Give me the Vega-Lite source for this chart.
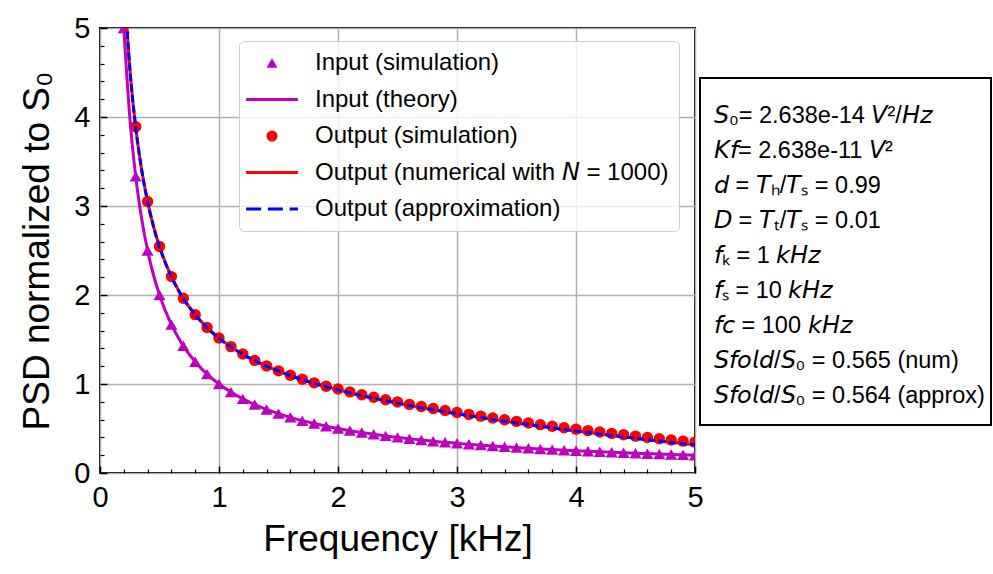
{
  "$schema": "https://vega.github.io/schema/vega-lite/v6.json",
  "background": "white",
  "padding": {"left": 17, "top": 13, "right": 5, "bottom": 5},
  "bounds": "flush",
  "spacing": 5,
  "config": {
    "font": "Liberation Sans",
    "axis": {"labelFont": "Liberation Sans", "titleFont": "Liberation Sans"},
    "legend": {"labelFont": "Liberation Sans"}
  },
  "datasets": {
    "tri": [{"f":0.2,"v":5},{"f":0.3,"v":3.333},{"f":0.4,"v":2.5},{"f":0.5,"v":2},{"f":0.6,"v":1.667},{"f":0.7,"v":1.429},{"f":0.8,"v":1.25},{"f":0.9,"v":1.111},{"f":1,"v":1},{"f":1.1,"v":0.909},{"f":1.2,"v":0.833},{"f":1.3,"v":0.769},{"f":1.4,"v":0.714},{"f":1.5,"v":0.667},{"f":1.6,"v":0.625},{"f":1.7,"v":0.588},{"f":1.8,"v":0.556},{"f":1.9,"v":0.526},{"f":2,"v":0.5},{"f":2.1,"v":0.476},{"f":2.2,"v":0.455},{"f":2.3,"v":0.435},{"f":2.4,"v":0.417},{"f":2.5,"v":0.4},{"f":2.6,"v":0.385},{"f":2.7,"v":0.37},{"f":2.8,"v":0.357},{"f":2.9,"v":0.345},{"f":3,"v":0.333},{"f":3.1,"v":0.323},{"f":3.2,"v":0.313},{"f":3.3,"v":0.303},{"f":3.4,"v":0.294},{"f":3.5,"v":0.286},{"f":3.6,"v":0.278},{"f":3.7,"v":0.27},{"f":3.8,"v":0.263},{"f":3.9,"v":0.256},{"f":4,"v":0.25},{"f":4.1,"v":0.244},{"f":4.2,"v":0.238},{"f":4.3,"v":0.233},{"f":4.4,"v":0.227},{"f":4.5,"v":0.222},{"f":4.6,"v":0.217},{"f":4.7,"v":0.213},{"f":4.8,"v":0.208},{"f":4.9,"v":0.204},{"f":5,"v":0.2}],
    "theory": [{"f":0.2,"v":5},{"f":0.25,"v":4},{"f":0.3,"v":3.333},{"f":0.35,"v":2.857},{"f":0.4,"v":2.5},{"f":0.45,"v":2.222},{"f":0.5,"v":2},{"f":0.6,"v":1.667},{"f":0.7,"v":1.429},{"f":0.8,"v":1.25},{"f":0.9,"v":1.111},{"f":1,"v":1},{"f":1.1,"v":0.909},{"f":1.2,"v":0.833},{"f":1.3,"v":0.769},{"f":1.4,"v":0.714},{"f":1.5,"v":0.667},{"f":1.6,"v":0.625},{"f":1.7,"v":0.588},{"f":1.8,"v":0.556},{"f":1.9,"v":0.526},{"f":2,"v":0.5},{"f":2.1,"v":0.476},{"f":2.2,"v":0.455},{"f":2.3,"v":0.435},{"f":2.4,"v":0.417},{"f":2.5,"v":0.4},{"f":2.6,"v":0.385},{"f":2.7,"v":0.37},{"f":2.8,"v":0.357},{"f":2.9,"v":0.345},{"f":3,"v":0.333},{"f":3.1,"v":0.323},{"f":3.2,"v":0.313},{"f":3.3,"v":0.303},{"f":3.4,"v":0.294},{"f":3.5,"v":0.286},{"f":3.6,"v":0.278},{"f":3.7,"v":0.27},{"f":3.8,"v":0.263},{"f":3.9,"v":0.256},{"f":4,"v":0.25},{"f":4.1,"v":0.244},{"f":4.2,"v":0.238},{"f":4.3,"v":0.233},{"f":4.4,"v":0.227},{"f":4.5,"v":0.222},{"f":4.6,"v":0.217},{"f":4.7,"v":0.213},{"f":4.8,"v":0.208},{"f":4.9,"v":0.204},{"f":5,"v":0.2}],
    "circ": [{"f":0.3,"v":3.89},{"f":0.4,"v":3.05},{"f":0.5,"v":2.545},{"f":0.6,"v":2.207},{"f":0.7,"v":1.963},{"f":0.8,"v":1.779},{"f":0.9,"v":1.634},{"f":1,"v":1.516},{"f":1.1,"v":1.42},{"f":1.2,"v":1.337},{"f":1.3,"v":1.265},{"f":1.4,"v":1.204},{"f":1.5,"v":1.148},{"f":1.6,"v":1.099},{"f":1.7,"v":1.054},{"f":1.8,"v":1.013},{"f":1.9,"v":0.975},{"f":2,"v":0.944},{"f":2.1,"v":0.911},{"f":2.2,"v":0.879},{"f":2.3,"v":0.851},{"f":2.4,"v":0.823},{"f":2.5,"v":0.797},{"f":2.6,"v":0.771},{"f":2.7,"v":0.747},{"f":2.8,"v":0.724},{"f":2.9,"v":0.702},{"f":3,"v":0.68},{"f":3.1,"v":0.659},{"f":3.2,"v":0.639},{"f":3.3,"v":0.618},{"f":3.4,"v":0.599},{"f":3.5,"v":0.58},{"f":3.6,"v":0.561},{"f":3.7,"v":0.543},{"f":3.8,"v":0.526},{"f":3.9,"v":0.509},{"f":4,"v":0.493},{"f":4.1,"v":0.476},{"f":4.2,"v":0.46},{"f":4.3,"v":0.444},{"f":4.4,"v":0.429},{"f":4.5,"v":0.414},{"f":4.6,"v":0.399},{"f":4.7,"v":0.385},{"f":4.8,"v":0.371},{"f":4.9,"v":0.358},{"f":5,"v":0.347}],
    "num": [{"f":0.2,"v":5.558},{"f":0.25,"v":4.556},{"f":0.3,"v":3.887},{"f":0.35,"v":3.408},{"f":0.4,"v":3.049},{"f":0.45,"v":2.769},{"f":0.5,"v":2.544},{"f":0.6,"v":2.206},{"f":0.7,"v":1.962},{"f":0.8,"v":1.778},{"f":0.9,"v":1.633},{"f":1,"v":1.515},{"f":1.1,"v":1.418},{"f":1.2,"v":1.335},{"f":1.3,"v":1.263},{"f":1.4,"v":1.201},{"f":1.5,"v":1.145},{"f":1.6,"v":1.095},{"f":1.7,"v":1.05},{"f":1.8,"v":1.008},{"f":1.9,"v":0.97},{"f":2,"v":0.935},{"f":2.1,"v":0.902},{"f":2.2,"v":0.87},{"f":2.3,"v":0.841},{"f":2.4,"v":0.813},{"f":2.5,"v":0.786},{"f":2.6,"v":0.76},{"f":2.7,"v":0.735},{"f":2.8,"v":0.712},{"f":2.9,"v":0.689},{"f":3,"v":0.666},{"f":3.1,"v":0.645},{"f":3.2,"v":0.624},{"f":3.3,"v":0.603},{"f":3.4,"v":0.583},{"f":3.5,"v":0.564},{"f":3.6,"v":0.544},{"f":3.7,"v":0.526},{"f":3.8,"v":0.508},{"f":3.9,"v":0.49},{"f":4,"v":0.473},{"f":4.1,"v":0.456},{"f":4.2,"v":0.439},{"f":4.3,"v":0.423},{"f":4.4,"v":0.407},{"f":4.5,"v":0.391},{"f":4.6,"v":0.375},{"f":4.7,"v":0.36},{"f":4.8,"v":0.345},{"f":4.9,"v":0.331},{"f":5,"v":0.317}],
    "approx": [{"f":0.2,"v":5.557},{"f":0.25,"v":4.555},{"f":0.3,"v":3.886},{"f":0.35,"v":3.407},{"f":0.4,"v":3.048},{"f":0.45,"v":2.768},{"f":0.5,"v":2.543},{"f":0.6,"v":2.205},{"f":0.7,"v":1.961},{"f":0.8,"v":1.777},{"f":0.9,"v":1.632},{"f":1,"v":1.514},{"f":1.1,"v":1.417},{"f":1.2,"v":1.334},{"f":1.3,"v":1.262},{"f":1.4,"v":1.2},{"f":1.5,"v":1.144},{"f":1.6,"v":1.094},{"f":1.7,"v":1.049},{"f":1.8,"v":1.007},{"f":1.9,"v":0.969},{"f":2,"v":0.934},{"f":2.1,"v":0.901},{"f":2.2,"v":0.869},{"f":2.3,"v":0.84},{"f":2.4,"v":0.812},{"f":2.5,"v":0.785},{"f":2.6,"v":0.759},{"f":2.7,"v":0.734},{"f":2.8,"v":0.711},{"f":2.9,"v":0.688},{"f":3,"v":0.665},{"f":3.1,"v":0.644},{"f":3.2,"v":0.623},{"f":3.3,"v":0.602},{"f":3.4,"v":0.582},{"f":3.5,"v":0.563},{"f":3.6,"v":0.543},{"f":3.7,"v":0.525},{"f":3.8,"v":0.507},{"f":3.9,"v":0.489},{"f":4,"v":0.472},{"f":4.1,"v":0.455},{"f":4.2,"v":0.438},{"f":4.3,"v":0.422},{"f":4.4,"v":0.406},{"f":4.5,"v":0.39},{"f":4.6,"v":0.374},{"f":4.7,"v":0.359},{"f":4.8,"v":0.344},{"f":4.9,"v":0.33},{"f":5,"v":0.316}],
    "box": [
      {"line": 1, "t": "\uD835\uDE1A\u2080= 2.638e-14 \uD835\uDE1D\u00B2/\uD835\uDE0F\uD835\uDE3B"},
      {"line": 2, "t": "\uD835\uDE12\uD835\uDE27= 2.638e-11 \uD835\uDE1D\u00B2"},
      {"line": 3, "t": "\uD835\uDE25 = \uD835\uDE1B\u2095/\uD835\uDE1B\u209B = 0.99"},
      {"line": 4, "t": "\uD835\uDE0B = \uD835\uDE1B\u209C/\uD835\uDE1B\u209B = 0.01"},
      {"line": 5, "t": "\uD835\uDE27\u2096 = 1 \uD835\uDE2C\uD835\uDE0F\uD835\uDE3B"},
      {"line": 6, "t": "\uD835\uDE27\u209B = 10 \uD835\uDE2C\uD835\uDE0F\uD835\uDE3B"},
      {"line": 7, "t": "\uD835\uDE27\uD835\uDE24 = 100 \uD835\uDE2C\uD835\uDE0F\uD835\uDE3B"},
      {"line": 8, "t": "\uD835\uDE1A\uD835\uDE27\uD835\uDE30\uD835\uDE2D\uD835\uDE25/\uD835\uDE1A\u2080 = 0.565 (num)"},
      {"line": 9, "t": "\uD835\uDE1A\uD835\uDE27\uD835\uDE30\uD835\uDE2D\uD835\uDE25/\uD835\uDE1A\u2080 = 0.564 (approx)"}
    ]
  },
  "resolve": {"scale": {"color": "independent", "shape": "independent"}, "legend": {"color": "independent", "shape": "independent"}},
  "hconcat": [
    {
      "width": 595,
      "height": 445,
      "view": {"stroke": "black", "strokeWidth": 2},
      "resolve": {"axis": {"x": "independent", "y": "independent"}},
      "layer": [
        {
          "data": {"name": "tri"},
          "mark": {"type": "point", "filled": true, "size": 145, "opacity": 1, "clip": true},
          "encoding": {
            "x": {"field": "f", "type": "quantitative", "scale": {"domain": [0, 5], "nice": false, "zero": false},
              "axis": {"orient": "bottom", "values": [0, 1, 2, 3, 4, 5], "format": "d", "grid": true, "gridColor": "#b0b0b0", "gridWidth": 1.5, "domain": false, "ticks": true, "tickSize": -7, "tickWidth": 1.5, "tickColor": "black", "labelFontSize": 29, "labelColor": "black", "labelPadding": 17, "labelFlush": false, "labelOverlap": false, "title": "Frequency [kHz]", "titleFontSize": 37, "titleFontWeight": "normal", "titleColor": "black", "titlePadding": 9}},
            "y": {"field": "v", "type": "quantitative", "scale": {"domain": [0, 5], "nice": false},
              "axis": {"orient": "left", "values": [0, 1, 2, 3, 4, 5], "format": "d", "grid": true, "gridColor": "#b0b0b0", "gridWidth": 1.5, "domain": false, "ticks": true, "tickSize": -7, "tickWidth": 1.5, "tickColor": "black", "labelFontSize": 29, "labelColor": "black", "labelPadding": 17, "labelFlush": false, "labelOverlap": false, "title": "PSD normalized to S\u2080", "titleFontSize": 37, "titleFontWeight": "normal", "titleColor": "black", "titlePadding": 17}},
            "color": {
              "datum": "Input (simulation)",
              "scale": {
                "domain": ["Input (simulation)", "Input (theory)", "Output (simulation)", "Output (numerical with \uD835\uDE15 = 1000)", "Output (approximation)"],
                "range": ["#bf00bf", "#bf00bf", "#ff0000", "#ff0000", "#0000ff"]
              },
              "legend": {
                "title": null,
                "orient": "none",
                "legendX": 139,
                "legendY": 13,
                "padding": 10,
                "fillColor": "rgba(255,255,255,0.8)",
                "strokeColor": "#cccccc",
                "cornerRadius": 5,
                "labelFontSize": 24,
                "labelColor": "black",
                "labelLimit": 600,
                "rowPadding": 12.5,
                "symbolSize": 121,
                "symbolStrokeWidth": 0,
                "symbolOffset": 11,
                "labelOffset": 31
              }
            },
            "shape": {
              "datum": "Input (simulation)",
              "scale": {
                "domain": ["Input (simulation)", "Input (theory)", "Output (simulation)", "Output (numerical with \uD835\uDE15 = 1000)", "Output (approximation)"],
                "range": ["triangle-up", "M-4.7,-0.28H4.7V0.28H-4.7Z", "circle", "M-4.7,-0.28H4.7V0.28H-4.7Z", "M-4.7,-0.28H-1.97V0.28H-4.7Z M-0.75,-0.28H1.98V0.28H-0.75Z M3.2,-0.28H4.7V0.28H3.2Z"]
              },
              "legend": {"title": null}
            }
          }
        },
        {
          "data": {"name": "circ"},
          "mark": {"type": "point", "filled": true, "size": 130, "opacity": 1, "clip": true},
          "encoding": {
            "x": {"field": "f", "type": "quantitative", "axis": null},
            "y": {"field": "v", "type": "quantitative", "axis": null},
            "color": {"datum": "Output (simulation)"},
            "shape": {"datum": "Output (simulation)"}
          }
        },
        {
          "data": {"name": "theory"},
          "mark": {"type": "line", "strokeWidth": 3, "interpolate": "monotone", "clip": true},
          "encoding": {
            "x": {"field": "f", "type": "quantitative",
              "axis": {"orient": "bottom", "values": [0.2, 0.4, 0.6, 0.8, 1.2, 1.4, 1.6, 1.8, 2.2, 2.4, 2.6, 2.8, 3.2, 3.4, 3.6, 3.8, 4.2, 4.4, 4.6, 4.8], "grid": false, "domain": false, "labels": false, "ticks": true, "tickSize": -4, "tickWidth": 1.2, "tickColor": "black", "title": null}},
            "y": {"field": "v", "type": "quantitative",
              "axis": {"orient": "left", "values": [0.2, 0.4, 0.6, 0.8, 1.2, 1.4, 1.6, 1.8, 2.2, 2.4, 2.6, 2.8, 3.2, 3.4, 3.6, 3.8, 4.2, 4.4, 4.6, 4.8], "grid": false, "domain": false, "labels": false, "ticks": true, "tickSize": -4, "tickWidth": 1.2, "tickColor": "black", "title": null}},
            "color": {"datum": "Input (theory)"}
          }
        },
        {
          "data": {"name": "num"},
          "mark": {"type": "line", "strokeWidth": 3, "interpolate": "monotone", "clip": true},
          "encoding": {
            "x": {"field": "f", "type": "quantitative", "axis": null},
            "y": {"field": "v", "type": "quantitative", "axis": null},
            "color": {"datum": "Output (numerical with \uD835\uDE15 = 1000)"}
          }
        },
        {
          "data": {"name": "approx"},
          "mark": {"type": "line", "strokeWidth": 3, "strokeDash": [7.4, 3.2], "interpolate": "monotone", "clip": true},
          "encoding": {
            "x": {"field": "f", "type": "quantitative", "axis": null},
            "y": {"field": "v", "type": "quantitative", "axis": null},
            "color": {"datum": "Output (approximation)"}
          }
        }
      ]
    },
    {
      "spacing": 10,
      "bounds": "flush",
      "vconcat": [
        {
          "width": 291,
          "height": 40,
          "view": {"stroke": null},
          "data": {"values": [{}]},
          "mark": {"type": "point", "opacity": 0},
          "encoding": {}
        },
        {
          "width": 291,
          "height": 347,
          "view": {"stroke": "black", "strokeWidth": 2},
          "data": {"name": "box"},
          "mark": {"type": "text", "align": "left", "baseline": "middle", "fontSize": 23.5, "dy": 4.5, "color": "black", "font": "Liberation Sans"},
          "encoding": {
            "x": {"value": 14},
            "y": {"field": "line", "type": "ordinal", "axis": null, "scale": {"type": "point", "padding": 0.95}},
            "text": {"field": "t"}
          }
        }
      ]
    }
  ]
}
